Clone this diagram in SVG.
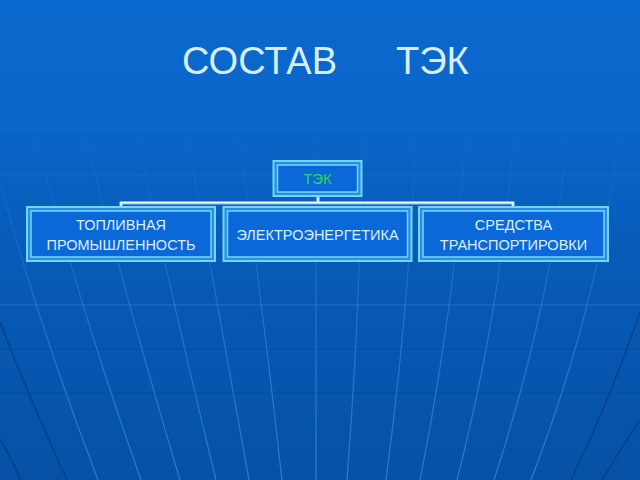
<svg xmlns="http://www.w3.org/2000/svg" width="640" height="480" viewBox="0 0 640 480">
<defs>
<linearGradient id="bg" x1="0" y1="0" x2="0" y2="1">
<stop offset="0" stop-color="#0a69cf"/>
<stop offset="0.3" stop-color="#0a64c6"/>
<stop offset="0.6" stop-color="#0759b4"/>
<stop offset="1" stop-color="#0651a6"/>
</linearGradient>
<linearGradient id="mg" gradientUnits="userSpaceOnUse" x1="0" y1="120" x2="0" y2="480">
<stop offset="0" stop-color="#3a92ec" stop-opacity="0"/>
<stop offset="0.35" stop-color="#3a92ec" stop-opacity="0.25"/>
<stop offset="0.55" stop-color="#3a92ec" stop-opacity="0.5"/>
<stop offset="1" stop-color="#3a92ec" stop-opacity="0.65"/>
</linearGradient>
<style>
.mer{fill:none;stroke:url(#mg);stroke-width:1.2}
.hl{stroke:#3a90ea;stroke-width:1.2;opacity:0.5}
.hf{stroke:#3a90ea;stroke-width:1.2;opacity:0.18}
.hd{stroke:#044a98;stroke-width:1.2;opacity:0.7}
.arc{fill:none;stroke:#043f86;stroke-width:1.6;opacity:0.8}
.bo{fill:#2a8ee0;stroke:#74d6f6;stroke-width:2}
.bi{fill:#0b68d8;stroke:#74d6f6;stroke-width:1.5}
.t{font-family:"Liberation Sans",Arial,sans-serif;font-size:14.5px;fill:#dcefff;text-anchor:middle}
.title{font-family:"Liberation Sans",Arial,sans-serif;font-size:38px;fill:#d6eeff}
.c1{fill:none;stroke:#7fd4f4;stroke-width:3.2}
.c2{fill:none;stroke:#ffffff;stroke-width:1.3}
</style>
</defs>
<rect width="640" height="480" fill="url(#bg)"/>
<g id="background">
<line class="hf" x1="0" y1="130" x2="640" y2="130"/>
<line class="hf" x1="0" y1="175" x2="640" y2="175"/>
<line class="hl" x1="0" y1="305" x2="640" y2="305"/>
<line class="hd" x1="0" y1="349" x2="640" y2="349"/>
<line class="hd" x1="0" y1="393" x2="640" y2="393"/>
<path class="mer" d="M-14,130 Q29,300 98,480"/>
<path class="mer" d="M34,130 Q77,300 141,480"/>
<path class="mer" d="M84,130 Q126,300 180,480"/>
<path class="mer" d="M136,130 Q172,300 216,480"/>
<path class="mer" d="M186,130 Q216,300 249,480"/>
<path class="mer" d="M238,130 Q262,300 282,480"/>
<path class="mer" d="M316,130 Q316,300 316,480"/>
<path class="mer" d="M362,130 Q361,300 347,480"/>
<path class="mer" d="M416,130 Q410,300 386,480"/>
<path class="mer" d="M466,130 Q456,300 420,480"/>
<path class="mer" d="M514,130 Q503,300 457,480"/>
<path class="mer" d="M568,130 Q553,300 494,480"/>
<path class="mer" d="M620,130 Q600,300 531,480"/>
<path class="arc" d="M0,322 Q30,400 67,480"/>
<path class="arc" d="M0,440 Q12,458 20,480"/>
<path class="arc" d="M640,312 Q610,400 571,480"/>
<path class="arc" d="M640,420 Q620,450 602,480"/>
</g>
<g id="title">
<text class="title" x="182" y="74">СОСТАВ</text>
<text class="title" x="396" y="74">ТЭК</text>
</g>
<g id="connectors">
<path class="c1" d="M318,196 V203 M121,207 V203 H513 V207"/>
<path class="c2" d="M318,196 V203 M121,207 V202.5 H513 V207"/>
</g>
<g id="tek">
<rect class="bo" x="273.5" y="161" width="88" height="35"/>
<rect class="bi" x="277.5" y="165" width="80" height="27"/>
<text class="t" x="317.5" y="183.5" style="fill:#33d266;font-size:15px">ТЭК</text>
</g>
<g id="fuel">
<rect class="bo" x="27" y="207" width="188" height="54"/>
<rect class="bi" x="31" y="211" width="180" height="46"/>
<text class="t" x="121" y="230">ТОПЛИВНАЯ</text>
<text class="t" x="121" y="249.5">ПРОМЫШЛЕННОСТЬ</text>
</g>
<g id="power">
<rect class="bo" x="223.5" y="207" width="188" height="54"/>
<rect class="bi" x="227.5" y="211" width="180" height="46"/>
<text class="t" x="317.5" y="239.5">ЭЛЕКТРОЭНЕРГЕТИКА</text>
</g>
<g id="transport">
<rect class="bo" x="419" y="207" width="189" height="54"/>
<rect class="bi" x="423" y="211" width="181" height="46"/>
<text class="t" x="513.5" y="230">СРЕДСТВА</text>
<text class="t" x="513.5" y="249.5">ТРАНСПОРТИРОВКИ</text>
</g>
</svg>
